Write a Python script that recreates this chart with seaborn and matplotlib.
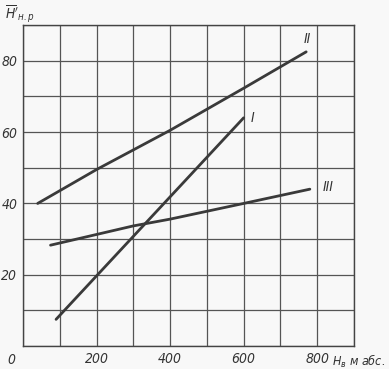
import pandas as pd
import matplotlib.pyplot as plt
import seaborn as sns

# curve I
x_1 = [90, 600]
y_1 = [7.5, 64]
# curve II
x_2 = [40, 200, 400, 600, 770]
y_2 = [40, 49.5, 60.5, 72.3, 82.5]
# curve III
x_3 = [75, 200, 300, 400, 600, 780]
y_3 = [28.3, 31.3, 33.7, 35.6, 40, 44]

curve_names = ['I', 'II', 'III']
x_ticks = [200, 400, 600, 800]
y_ticks = [20, 40, 60, 80]

sns.set_style('white')
plt.rcParams['font.family'] = ['DejaVu Sans']
plt.rcParams['font.style'] = 'italic'
plt.rcParams['font.stretch'] = 'condensed'
plt.rcParams['mathtext.fontset'] = 'dejavusans'

df = pd.concat([
    pd.DataFrame({'x': x_1, 'y': y_1, 'curve': 'I'}),
    pd.DataFrame({'x': x_2, 'y': y_2, 'curve': 'II'}),
    pd.DataFrame({'x': x_3, 'y': y_3, 'curve': 'III'}),
])

fig = plt.figure(figsize=(3.89, 3.69), dpi=100, facecolor='#f8f8f8')
ax = fig.add_axes([0.059, 0.062, 0.851, 0.870])
ax.set_facecolor('#f8f8f8')

sns.lineplot(data=df, x='x', y='y', hue='curve', palette=['#3a3a3a'] * 3,
             linewidth=2.0, legend=False, sort=False, ax=ax)

ax.set_xlim(0, 900)
ax.set_ylim(0, 90)
ax.set_xticks(range(0, 901, 100))
ax.set_yticks(range(0, 91, 10))
ax.grid(True, color='#555555', linewidth=0.9)
for s in ax.spines.values():
    s.set_color('#444444')
    s.set_linewidth(1.0)

ax.set_xticklabels(['' if v not in x_ticks else str(v) for v in range(0, 901, 100)])
ax.set_yticklabels(['' if v not in y_ticks else str(v) for v in range(0, 91, 10)])
ax.tick_params(length=0, labelsize=10, colors='#333333', pad=4)
ax.set_xlabel('')
ax.set_ylabel('')

# origin label
ax.text(-0.035, -0.022, '0', transform=ax.transAxes, ha='center', va='top',
        fontsize=10, color='#333333')
# axis titles
ax.text(0.933, -0.022, r'$H_{\mathrm{в}}$ м абс.', transform=ax.transAxes,
        ha='left', va='top', fontsize=9, color='#333333', clip_on=False)
ax.text(-0.055, 1.0, r"$\overline{H}'_{\mathrm{н.р}}$", transform=ax.transAxes,
        ha='left', va='bottom', fontsize=10, color='#333333')

# curve labels
ax.text(772, 86, 'II', fontsize=10, color='#333333', ha='center', va='center')
ax.text(625, 64, 'I', fontsize=10, color='#333333', ha='center', va='center')
ax.text(830, 44.5, 'III', fontsize=10, color='#333333', ha='center', va='center')

fig.savefig('out.png', dpi=100, facecolor=fig.get_facecolor())
